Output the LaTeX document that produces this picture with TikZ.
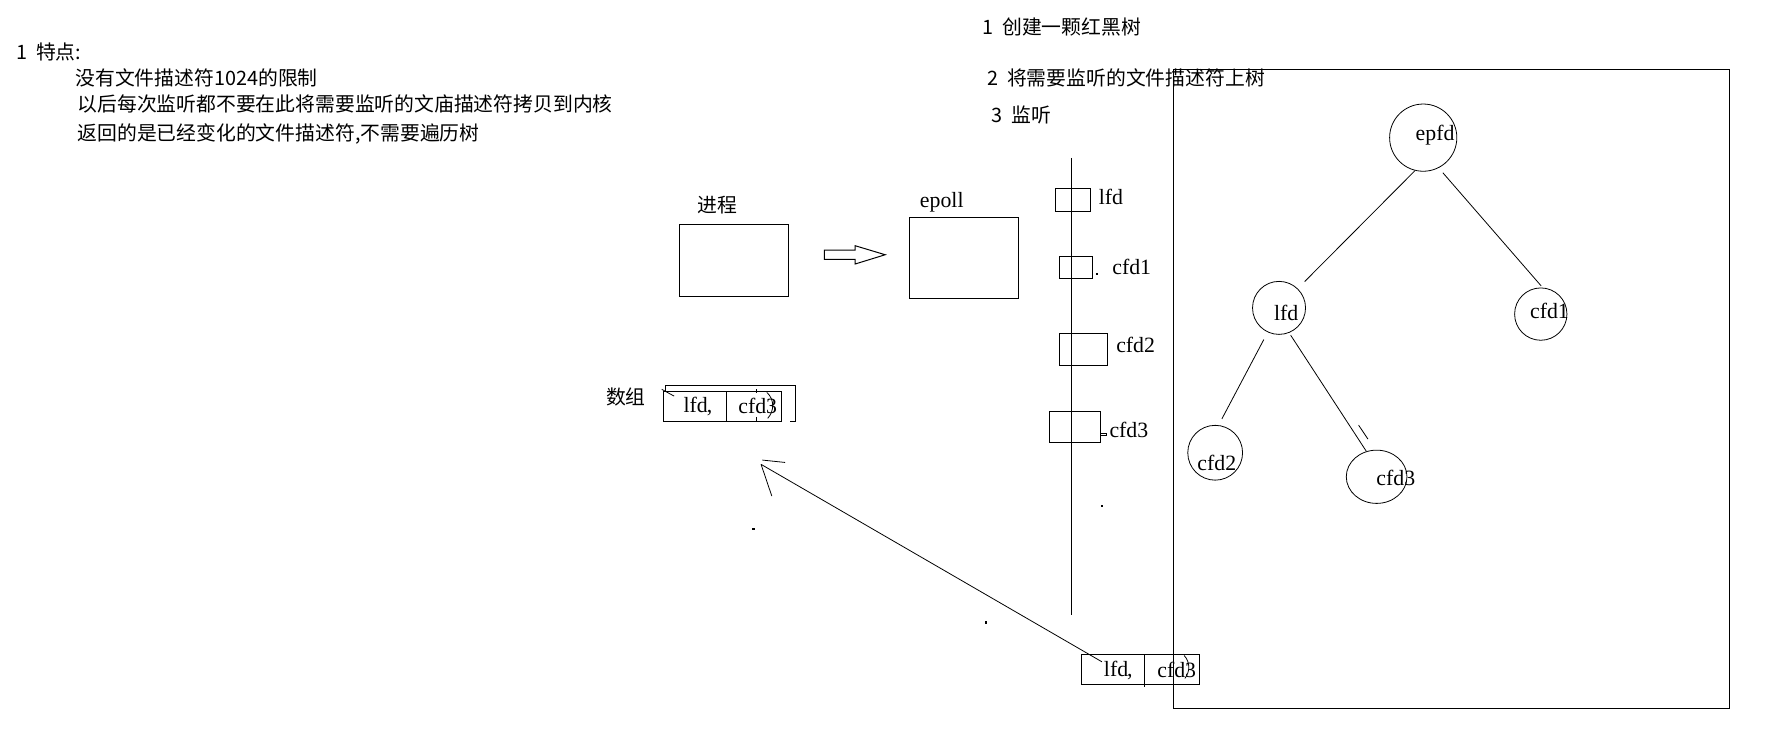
\documentclass[tikz,border=0pt]{standalone}
\usepackage{fontspec}
\setmainfont{Liberation Serif}
\newfontfamily\cjk{Noto Sans CJK SC}
\usetikzlibrary{fit,shapes.geometric}
\begin{document}
\begin{tikzpicture}[x=0.02cm,y=-0.02cm, line width=0.5pt,
  cn/.style={font={\cjk\fontsize{10}{12}\selectfont}, inner sep=0pt, anchor=west},
  lt/.style={font={\fontsize{11}{13}\selectfont}, inner sep=0pt, anchor=west},
  bx/.style={draw, inner sep=0pt},
  tn/.style={draw, circle, inner sep=0pt, line width=0.4pt},
  tl/.style={line width=0.4pt},
  dotm/.style={fill, rectangle, inner sep=0pt, minimum size=1.1pt}
]
\useasboundingbox (0,0) rectangle (1568,652);

% ---- left notes
\node[cn] (t1) at (14,45.8) {\makebox[1em][l]{1}特点:};
\node[cn] (t2) at (66.5,69.4) {没有文件描述符1024的限制};
\node[cn] (t3) at (68.3,92.2) {以后每次监听都不要在此将需要监听的文庙描述符拷贝到内核};
\node[cn] (t4) at (68.3,118.8) {返回的是已经变化的文件描述符,不需要遍历树};

% ---- right notes
\node[cn] (s1) at (870.3,24.2) {\makebox[1em][l]{1}创建一颗红黑树};
\node[cn] (s2) at (874.7,69.4) {\makebox[1em][l]{2}将需要监听的文件描述符上树};
\node[cn] (s3) at (878.3,102) {\makebox[1em][l]{3}监听};

% ---- process and epoll
\node[bx, fit={(602,198.6) (699,263)}] (proc) {};
\node[cn] (procl) at (618,182) {进程};
\node[bx, fit={(806,193) (902.5,265)}] (epoll) {};
\node[lt] (epolll) at (815,179) {epoll};
\draw (730.8,221.6) -- (758,221.6) -- (758,217.8) -- (784.6,225.8)
      -- (758,234) -- (758,229.9) -- (730.8,229.9) -- cycle;

% ---- timeline
\coordinate (tltop) at (949.6,140);
\coordinate (tlbot) at (949.6,545);
\node[bx, fit={(935.5,167.3) (966.6,187.3)}] (b1) {};
\node[bx, fit={(939,227.2) (968.4,246.7)}] (b2) {};
\node[bx, fit={(939,295.5) (982,323.9)}] (b3) {};
\node[bx, fit={(930.2,364.6) (975.8,392.1)}] (b4) {};
\draw (tltop) -- (tlbot);
\node[lt] (b1l) at (973.5,174.4) {lfd};
\node[lt] (b2l) at (985.5,237) {cfd1};
\node[lt] (b3l) at (989,305.9) {cfd2};
\node[lt] (b4l) at (983,381) {cfd3};
\node[dotm] (d1) at (972.2,243.2) {};
\draw (975.8,384.1) -- (981.1,384.1) -- (981.1,385.9) -- (975.8,385.9);

% ---- stray dots
\node[dotm] (d2) at (976.7,448.3) {};
\node[dotm] (d3) at (667.8,469) {};
\node[dotm] (d4) at (874.1,551.7) {};

% ---- big tree frame
\node[bx, fit={(1040,61.5) (1533,628)}] (frame) {};

% ---- tree
\node[tn, minimum size=1.192cm] (epfd) at (1261.5,122) {};
\node[tn, minimum size=0.94cm] (lfd) at (1133.7,272.9) {};
\node[tn, minimum size=0.928cm] (cfd1) at (1365.7,278.4) {};
\node[tn, minimum size=0.972cm] (cfd2) at (1077.1,401.3) {};
\node[draw, ellipse, inner sep=0pt, line width=0.4pt, minimum width=1.076cm, minimum height=0.944cm] (cfd3) at (1220.2,422.6) {};
\node[lt] at (1254.4,119.7) {epfd};
\node[lt] at (1128.8,277.8) {lfd};
\node[lt] at (1355.8,275.4) {cfd1};
\node[lt] at (1060.9,410.2) {cfd2};
\node[lt] at (1219.6,423.5) {cfd3};
\draw[tl, shorten >=0.174cm] (epfd.-104) -- (lfd.46);
\draw[tl, shorten <=0.112cm, shorten >=0.04cm] (epfd.-63) -- (cfd1.86);
\draw[tl, shorten <=0.144cm, shorten >=0.126cm] (lfd.-115) -- (cfd2.83);
\draw[tl, shorten <=0.05cm] (lfd.-68) -- (cfd3.112);
\draw[tl] (1204.2,376.8) -- (1212.5,389.2);

% ---- left array
\node[cn, anchor=center] (arrl) at (554.8,351.7) {数组};
\node[bx, fit={(588,347.2) (693,373.2)}] (arr1) {};
\draw (644.2,347.2) -- (644.2,373.2);
\draw (590.1,347.2) -- (590.1,341.9) -- (704.8,341.9) -- (704.8,373.2) -- (700.4,373.2);
\draw[tl] (586.6,345.1) -- (597.5,351.1);
\draw[tl] (670,345) -- (670,348.7);
\draw[tl] (670,369.4) -- (670,373.2);
\node[lt] at (605.5,360) {lfd\kern-0.05em,};
\node[lt] at (654,360) {cfd3};
\draw[tl] (679.7,347.8) .. controls (686.5,354) and (686.5,364) .. (680.5,370.8);

% ---- bottom array
\node[bx, fit={(959,580) (1063.2,606.7)}] (arr2) {};
\draw (1014.5,580) -- (1014.5,609);
\node[lt] at (978.1,594) {lfd\kern-0.05em,};
\node[lt] at (1025.4,594) {cfd3};
\draw[tl] (1049.6,581) .. controls (1055,587) and (1055,595) .. (1050.2,601.4);

% ---- return arrow
\coordinate (tail) at (976.7,586.6);
\coordinate (tip) at (674.6,411.6);
\draw[tl] (tail) -- (tip);
\draw[tl] (tip) -- (684.1,439.7);
\draw[tl] (675.8,407.8) -- (695.9,409.9);
\end{tikzpicture}
\end{document}
